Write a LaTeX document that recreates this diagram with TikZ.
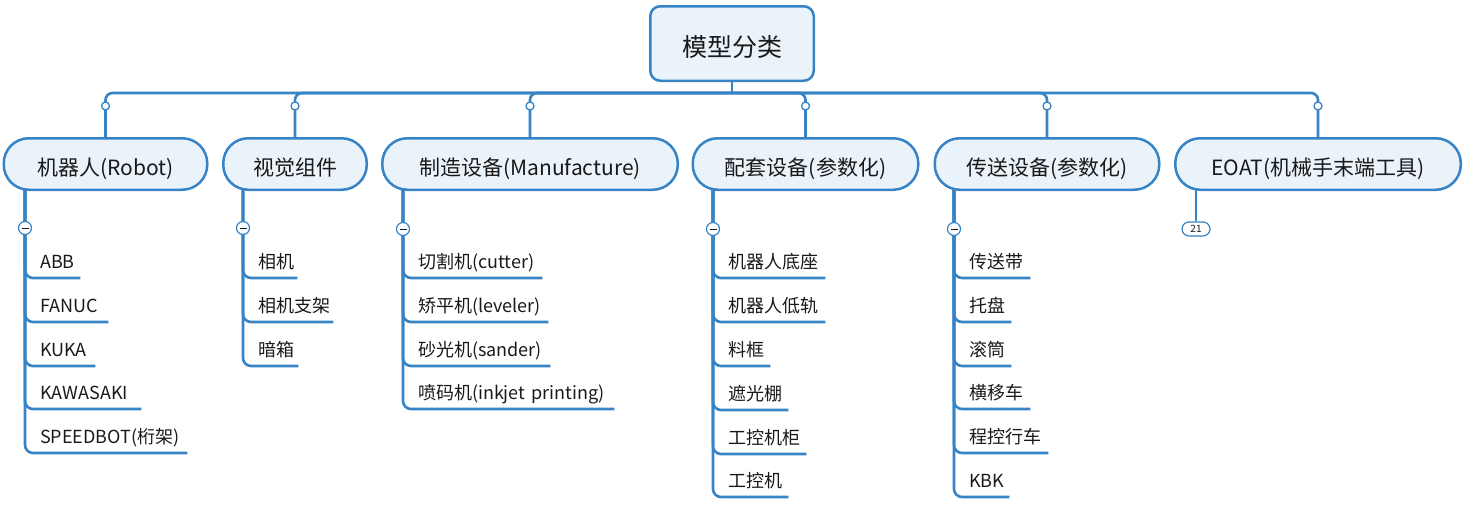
\documentclass[tikz,border=0pt]{standalone}
\usepackage{fontspec}
\setmainfont{Noto Sans CJK SC}
\usetikzlibrary{backgrounds}
\definecolor{xblue}{RGB}{54,131,197}
\definecolor{xfill}{RGB}{235,243,250}
\definecolor{xtext}{RGB}{25,25,25}
\begin{document}
\begin{tikzpicture}[x=1pt,y=-1pt,
  rootbox/.style={draw=xblue, line width=2.5pt, fill=xfill, rounded corners=10pt,
    minimum width=163.5pt, minimum height=74.5pt, inner sep=0pt,
    text height=25pt, text depth=0pt,
    font=\fontsize{25}{30}\selectfont, text=xtext},
  topic/.style={draw=xblue, line width=2.5pt, fill=xfill, rounded corners=25pt,
    minimum height=51.5pt, inner sep=0pt, text height=22pt, text depth=0pt,
    font=\fontsize{21}{25}\selectfont, text=xtext},
  conn/.style={draw=xblue, line width=2.6pt},
  subline/.style={draw=xblue, line width=2.6pt, rounded corners=8pt},
  leaf/.style={anchor=south west, inner sep=0pt, text depth=9pt, text height=14pt,
    text width=#1, align=left, font=\fontsize{18}{22}\selectfont, text=xtext},
  knob/.style={circle, draw=xblue, fill=white, line width=1.3pt, minimum size=8pt, inner sep=0pt},
  fold/.style={circle, draw=xblue, fill=white, line width=1.2pt, minimum size=13pt, inner sep=0pt,
    path picture={\draw[xtext, line width=1pt] ([xshift=-3.5pt]path picture bounding box.center) -- ([xshift=3.5pt]path picture bounding box.center);}},
  badge/.style={draw=xblue, fill=white, line width=1.2pt, rounded corners=7pt,
    minimum width=28pt, minimum height=14pt, inner sep=0pt,
    font=\fontsize{10}{12}\selectfont, text=xtext}
]
\useasboundingbox (0,0) rectangle (1469,506);

% root and main topics
\node[rootbox] (root) at (732,43.5) {模型分类};
\coordinate (bus) at (732,93);
\node[topic, minimum width=203.5pt] (c1) at (105.5,164) {机器人(Robot)};
\node[topic, minimum width=143.5pt] (c2) at (295,164) {视觉组件};
\node[topic, minimum width=295.5pt] (c3) at (530,164) {制造设备(Manufacture)};
\node[topic, minimum width=225.5pt] (c4) at (805.5,164) {配套设备(参数化)};
\node[topic, minimum width=224.5pt] (c5) at (1047,164) {传送设备(参数化)};
\node[topic, minimum width=285.5pt] (c6) at (1318,164) {EOAT(机械手末端工具)};

% sub-branch tops
\coordinate (s1) at (25,180);
\coordinate (s2) at (243,180);
\coordinate (s3) at (403,180);
\coordinate (s4) at (713,180);
\coordinate (s5) at (954,180);
\coordinate (s6) at (1196,180);

% leaves: robot
\node[leaf=40pt]  (l11) at (40,278) {ABB};
\node[leaf=68pt]  (l12) at (40,322) {FANUC};
\node[leaf=55pt]  (l13) at (40,366) {KUKA};
\node[leaf=101pt] (l14) at (40,409) {KAWASAKI};
\node[leaf=147pt] (l15) at (40,453) {SPEEDBOT(桁架)};
% leaves: vision
\node[leaf=39pt]  (l21) at (258,278) {相机};
\node[leaf=75pt]  (l22) at (258,322) {相机支架};
\node[leaf=40pt]  (l23) at (258,366) {暗箱};
% leaves: manufacture
\node[leaf=124pt] (l31) at (418,278) {切割机(cutter)};
\node[leaf=130pt] (l32) at (418,322) {矫平机(leveler)};
\node[leaf=132pt] (l33) at (418,366) {砂光机(sander)};
\node[leaf=196pt] (l34) at (418,409) {喷码机(inkjet printing)};
% leaves: auxiliary
\node[leaf=97pt]  (l41) at (728,278) {机器人底座};
\node[leaf=97pt]  (l42) at (728,322) {机器人低轨};
\node[leaf=42pt]  (l43) at (728,366) {料框};
\node[leaf=60pt]  (l44) at (728,410) {遮光棚};
\node[leaf=78pt]  (l45) at (728,454) {工控机柜};
\node[leaf=60pt]  (l46) at (728,497) {工控机};
% leaves: conveying
\node[leaf=61pt]  (l51) at (969,278) {传送带};
\node[leaf=42pt]  (l52) at (969,322) {托盘};
\node[leaf=42pt]  (l53) at (969,366) {滚筒};
\node[leaf=61pt]  (l54) at (969,409) {横移车};
\node[leaf=79pt]  (l55) at (969,453) {程控行车};
\node[leaf=40pt]  (l56) at (969,497) {KBK};

\begin{pgfonlayer}{background}
  \draw[conn] (root.south) -- (bus);
  \foreach \c in {c1,c2,c3,c4,c5,c6}
    \draw[conn, rounded corners=7pt] (bus) -| (\c.north);
  \foreach \l in {l11,l12,l13,l14,l15} \draw[subline] (s1) |- (\l.south east);
  \foreach \l in {l21,l22,l23} \draw[subline] (s2) |- (\l.south east);
  \foreach \l in {l31,l32,l33,l34} \draw[subline] (s3) |- (\l.south east);
  \foreach \l in {l41,l42,l43,l44,l45,l46} \draw[subline] (s4) |- (\l.south east);
  \foreach \l in {l51,l52,l53,l54,l55,l56} \draw[subline] (s5) |- (\l.south east);
\end{pgfonlayer}

% knobs on the drops
\foreach \c in {c1,c2,c3,c4,c5,c6}
  \node[knob] (k\c) at ([yshift=31pt]\c.north) {};

% fold markers
\node[fold] (f1) at (25,228) {};
\node[fold] (f2) at (243,228) {};
\node[fold] (f3) at (403,229) {};
\node[fold] (f4) at (713,229) {};
\node[fold] (f5) at (954,229) {};

% EOAT badge
\node[badge] (b6) at (1196,229) {21};
\begin{pgfonlayer}{background}
  \draw[conn] (s6) -- (b6);
\end{pgfonlayer}
\end{tikzpicture}
\end{document}
